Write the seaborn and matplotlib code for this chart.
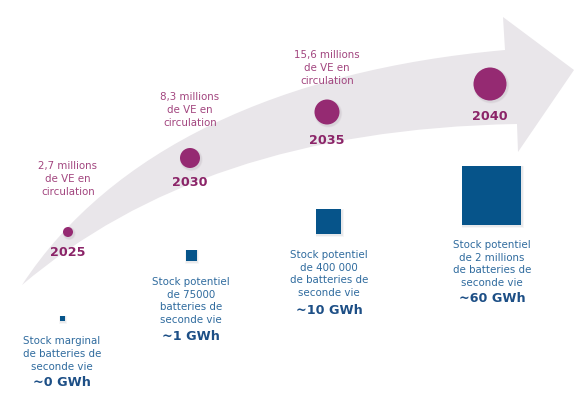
import numpy as np
import pandas as pd
import matplotlib
matplotlib.use("Agg")
import matplotlib.pyplot as plt
import seaborn as sns
from matplotlib.patches import PathPatch
from matplotlib.path import Path

# chart values
years = ["2025", "2030", "2035", "2040"]
ve_labels = ["2,7 millions\nde VE en\ncirculation",
             "8,3 millions\nde VE en\ncirculation",
             "15,6 millions\nde VE en\ncirculation",
             ""]
stock_labels = ["Stock marginal\nde batteries de\nseconde vie",
                "Stock potentiel\nde 75000\nbatteries de\nseconde vie",
                "Stock potentiel\nde 400 000\nde batteries de\nseconde vie",
                "Stock potentiel\nde 2 millions\nde batteries de\nseconde vie"]
gwh_labels = ["~0 GWh", "~1 GWh", "~10 GWh", "~60 GWh"]

# layout (pixel space of the 585x399 picture)
circle_x = [68, 190, 327, 490]
circle_y = [232, 158, 112, 84]
circle_d = [10, 20, 25, 33]
square_x = [62, 191, 328.5, 491.5]
square_y = [318, 255, 221.5, 195]
square_d = [5, 11, 25, 59]
year_y = [253, 183, 140, 116]
ve_y = [179, 110, 68, None]
stock_x = [62, 191, 329, 492]
stock_y = [354, 301, 274, 264]
gwh_y = [383, 337, 310, 298]

PURPLE = "#952a72"
PURPLE_TXT = "#a2457f"
PURPLE_YEAR = "#8b2468"
BLUE = "#06548a"
BLUE_TXT = "#2f6b9e"
BLUE_BOLD = "#1d4f86"
ARROW = "#e9e6ea"

sns.set_theme(style="white")
plt.rcParams['font.family'] = ['DejaVu Sans']

fig = plt.figure(figsize=(5.85, 3.99), dpi=100)
ax = fig.add_axes([0, 0, 1, 1])
ax.set_xlim(0, 585)
ax.set_ylim(399, 0)
ax.axis("off")

# big curved arrow in the background: two bezier edges and a head
verts = [(22, 285), (110, 150), (280, 70), (505, 50),
         (503, 17), (574, 70), (518, 152), (517, 124),
         (300, 128), (140, 185), (22, 285), (22, 285)]
codes = [Path.MOVETO, Path.CURVE4, Path.CURVE4, Path.CURVE4,
         Path.LINETO, Path.LINETO, Path.LINETO, Path.LINETO,
         Path.CURVE4, Path.CURVE4, Path.CURVE4, Path.CLOSEPOLY]
ax.add_patch(PathPatch(Path(verts, codes), facecolor=ARROW, edgecolor="none", zorder=0))

marks = pd.DataFrame({"year": years, "cx": circle_x, "cy": circle_y,
                      "sx": square_x, "sy": square_y})

# soft shadows
for pad, a in [(3.0, 0.05), (1.5, 0.08)]:
    ax.scatter(np.array(circle_x) + 1.2, np.array(circle_y) + 1.5,
               s=((np.array(circle_d) + pad) * 0.72) ** 2, color="#6a5a66", alpha=a,
               linewidths=0, zorder=1)
    ax.scatter(np.array(square_x) + 1.2, np.array(square_y) + 1.5,
               s=((np.array(square_d) + pad) * 0.72) ** 2, marker="s", color="#505a66",
               alpha=a, linewidths=0, zorder=1)

sns.scatterplot(data=marks, x="cx", y="cy", s=(np.array(circle_d) * 0.72) ** 2,
                color=PURPLE, linewidth=0, ax=ax, zorder=3, legend=False)
sns.scatterplot(data=marks, x="sx", y="sy", s=(np.array(square_d) * 0.72) ** 2,
                marker="s", color=BLUE, linewidth=0, ax=ax, zorder=3, legend=False)
ax.set_xlim(0, 585)
ax.set_ylim(399, 0)


def block(x, yc, text, color, size, weight="normal", step=12.8):
    lines = text.split("\n")
    n = len(lines)
    for i, line in enumerate(lines):
        ax.text(x, yc + (i - (n - 1) / 2) * step, line, color=color, fontsize=size,
                fontweight=weight, ha="center", va="center", zorder=4)


for i in range(len(years)):
    block(circle_x[i], year_y[i], years[i], PURPLE_YEAR, 9.2, "bold")
    if ve_labels[i]:
        block(circle_x[i], ve_y[i], ve_labels[i], PURPLE_TXT, 7.4)
    block(stock_x[i], stock_y[i], stock_labels[i], BLUE_TXT, 7.4)
    block(stock_x[i], gwh_y[i], gwh_labels[i], BLUE_BOLD, 9.2, "bold")

fig.savefig("out.png", dpi=100)
